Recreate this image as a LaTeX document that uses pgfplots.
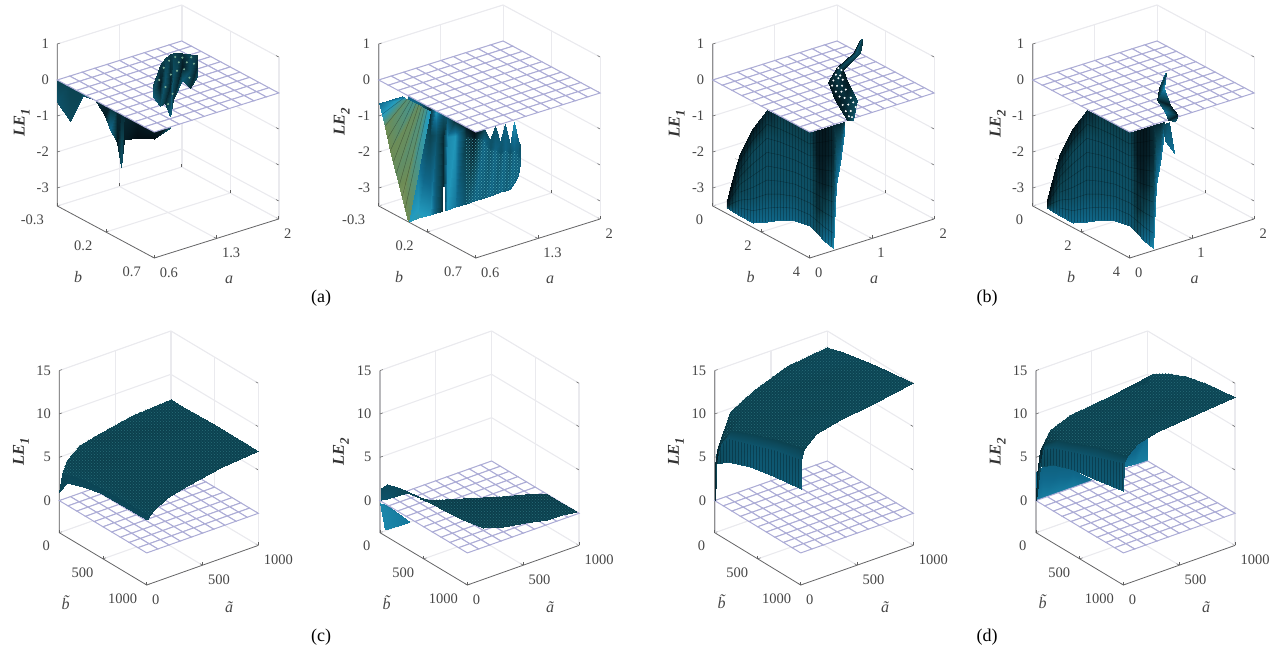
\documentclass[border=0pt]{standalone}
\usepackage{fontspec}
\setmainfont{Liberation Serif}
\usepackage{pgfplots}
\usepackage{pgfplotstable}
\usetikzlibrary{patterns}
\pgfplotsset{compat=1.18}
\definecolor{wallc}{RGB}{234,234,238}
\definecolor{tickc}{RGB}{95,95,95}
\definecolor{planec}{RGB}{172,172,214}
\definecolor{txtc}{RGB}{70,70,70}
\definecolor{speck}{RGB}{40,108,120}
\definecolor{speckb}{RGB}{80,170,185}
\definecolor{speckg}{RGB}{125,175,150}
\pgfplotsset{colormap={ds}{rgb255(0cm)=(3,14,20) rgb255(2cm)=(12,66,80) rgb255(4.5cm)=(16,105,140) rgb255(6.2cm)=(35,155,190) rgb255(8cm)=(110,140,85) rgb255(9.5cm)=(200,215,190) rgb255(10cm)=(255,255,255)}}
\pgfplotsset{
 base/.style={clip=false, anchor=south west, y dir=reverse, colormap name=ds,
  point meta min=0, point meta max=1, axis line style={wallc}, grid=major,
  major grid style={wallc,line width=1.1pt}, tick align=inside, major tick length=3pt,
  tick pos=left, unbounded coords=jump,
  tick style={tickc,line width=.5pt},
  tick label style={font=\fontsize{14.5}{16}\selectfont, text=txtc},
  xticklabel style={anchor=north west, xshift=2pt, yshift=-6pt},
  zticklabel style={anchor=east, xshift=-5pt}},
 kT/.style={base, x={(88.857pt,27.857pt)}, y={(-97pt,52pt)}, z={(0pt,36pt)},
  yticklabel style={anchor=north east, xshift=-10pt, yshift=-5pt},
  xmin=0.6,xmax=2,ymin=-0.3,ymax=0.7,zmin=-3.5,zmax=1,
  xtick={0.6,1.3,2},xticklabels={0.6,1.3,2},ytick={-0.3,0.2,0.7},yticklabels={-0.3,0.2,0.7},
  ztick={-3,-2,-1,0,1},zticklabels={-3,-2,-1,0,1}},
 kB/.style={base, x={(62.2pt,19.5pt)}, y={(-24.25pt,13pt)}, z={(0pt,36pt)},
  yticklabel style={anchor=north east, xshift=-6pt, yshift=-5pt},
  xmin=0,xmax=2,ymin=0,ymax=4,zmin=-3.5,zmax=1,
  xtick={0,1,2},xticklabels={0,1,2},ytick={0,2,4},yticklabels={0,2,4},
  ztick={-3,-2,-1,0,1},zticklabels={-3,-2,-1,0,1}},
 kC/.style={base, x={(0.1116pt,0.0396pt)}, y={(-0.0874pt,0.0523pt)}, z={(0pt,8.67pt)},
  yticklabel style={anchor=north east, xshift=-6pt, yshift=-5pt},
  xmin=0,xmax=1000,ymin=0,ymax=1000,zmin=-3.7,zmax=15,
  xtick={0,500,1000},xticklabels={0,500,1000},ytick={0,500,1000},yticklabels={0,500,1000},
  ztick={0,5,10,15},zticklabels={0,5,10,15}},
 sf/.style={surf, shader=interp, point meta=explicit, mesh/ordering=x varies},
 pl/.style={surf, shader=faceted, faceted color=planec, line width=1pt, mesh/cols=11, mesh/ordering=x varies, point meta=explicit},
 ax/.style={no marks, tickc, line width=.7pt},
 dotsA/.style={no marks, draw=none, pattern=crosshatch dots, pattern color=speck},
 dotsB/.style={no marks, draw=none, pattern=crosshatch dots, pattern color=speckb},
 vlines/.style={no marks, draw=none, pattern=vertical lines, pattern color=black, opacity=.25},
 rings/.style={no marks, black, opacity=.35, line width=.4pt}
}
\pgfplotstableread{
i j k m
0 0 0 1
1 0 0 1
2 0 0 1
3 0 0 1
4 0 0 1
5 0 0 1
6 0 0 1
7 0 0 1
8 0 0 1
9 0 0 1
10 0 0 1
0 1 0 1
1 1 0 1
2 1 0 1
3 1 0 1
4 1 0 1
5 1 0 1
6 1 0 1
7 1 0 1
8 1 0 1
9 1 0 1
10 1 0 1
0 2 0 1
1 2 0 1
2 2 0 1
3 2 0 1
4 2 0 1
5 2 0 1
6 2 0 1
7 2 0 1
8 2 0 1
9 2 0 1
10 2 0 1
0 3 0 1
1 3 0 1
2 3 0 1
3 3 0 1
4 3 0 1
5 3 0 1
6 3 0 1
7 3 0 1
8 3 0 1
9 3 0 1
10 3 0 1
0 4 0 1
1 4 0 1
2 4 0 1
3 4 0 1
4 4 0 1
5 4 0 1
6 4 0 1
7 4 0 1
8 4 0 1
9 4 0 1
10 4 0 1
0 5 0 1
1 5 0 1
2 5 0 1
3 5 0 1
4 5 0 1
5 5 0 1
6 5 0 1
7 5 0 1
8 5 0 1
9 5 0 1
10 5 0 1
0 6 0 1
1 6 0 1
2 6 0 1
3 6 0 1
4 6 0 1
5 6 0 1
6 6 0 1
7 6 0 1
8 6 0 1
9 6 0 1
10 6 0 1
0 7 0 1
1 7 0 1
2 7 0 1
3 7 0 1
4 7 0 1
5 7 0 1
6 7 0 1
7 7 0 1
8 7 0 1
9 7 0 1
10 7 0 1
0 8 0 1
1 8 0 1
2 8 0 1
3 8 0 1
4 8 0 1
5 8 0 1
6 8 0 1
7 8 0 1
8 8 0 1
9 8 0 1
10 8 0 1
0 9 0 1
1 9 0 1
2 9 0 1
3 9 0 1
4 9 0 1
5 9 0 1
6 9 0 1
7 9 0 1
8 9 0 1
9 9 0 1
10 9 0 1
0 10 0 1
1 10 0 1
2 10 0 1
3 10 0 1
4 10 0 1
5 10 0 1
6 10 0 1
7 10 0 1
8 10 0 1
9 10 0 1
10 10 0 1
}\planegrid
% panel (a) LE1, below the plane
\pgfplotstableread{
a b z m
0.6 -0.3 -0.6 0.3
0.6 -0.17 -0.95 0.25
0.6 -0.035 -0.06 0.3
0.6 0.09 0 0.15
0.6 0.19 -0.29 0.05
0.6 0.243 -0.6 0.45
0.6 0.315 -0.83 0.05
0.6 0.357 -1.47 0.3
0.6 0.39 -0.67 0.05
0.6 0.52 -0.43 0
0.6 0.7 -0.2 0
0.778 0.7 -0.03 0.3
0.6 -0.3 0 0.2
0.6 -0.17 0.1 0.2
0.6 -0.035 0.1 0.2
0.6 0.09 0.1 0.2
0.6 0.19 0.1 0.1
0.6 0.243 0.1 0.1
0.6 0.315 0.1 0.1
0.6 0.357 0.1 0.1
0.6 0.39 0.1 0.1
0.6 0.52 0.1 0.05
0.6 0.7 0.1 0.05
0.778 0.7 0.1 0.1
}\aOneLo
% panel (a) LE1, above the plane
\pgfplotstableread{
a b z m
1.35 0 -0.29 0.2
1.43 0 0.21 0.15
1.485 0 0.36 0.2
1.54 0 0.43 0.15
1.574 0 0.43 0.2
1.675 0 0.35 0.12
1.766 0 0.25 0.22
1.845 0 0.16 0.15
1.35 0 -0.45 0.3
1.43 0 -0.36 0.05
1.485 0 -0.26 0.3
1.54 0 -0.45 0.08
1.574 0 -0.22 0.28
1.675 0 -0.03 0.05
1.766 0 -0.22 0.25
1.845 0 -0.15 0.1
1.35 0 -0.62 0.35
1.43 0 -0.93 0.28
1.485 0 -0.89 0.12
1.54 0 -1.32 0.4
1.574 0 -0.875 0.15
1.675 0 -0.4 0.35
1.766 0 -0.69 0.12
1.845 0 -0.45 0.25
}\aOneHi
% speckles on that clump
\pgfplotstableread{
a b z
1.42 0 -0.2
1.47 0 0.1
1.49 0 -0.45
1.53 0 0.25
1.55 0 -0.15
1.57 0 -0.7
1.6 0 0.3
1.62 0 -0.1
1.64 0 0.12
1.68 0 0.22
1.7 0 -0.12
1.73 0 0.05
1.76 0 -0.4
1.78 0 0.15
1.81 0 -0.05
1.52 0 -0.95
}\aOneSpeck
% panel (a) LE2, main sheet
\pgfplotstableread{
a b z m
0.606 0 -0.02 0.45
0.715 0 -0.21 0.4
0.85 0 -0.51 0.1
0.917 0 -0.64 0.62
0.996 0 -0.82 0.3
1.041 0 -0.91 0.3
1.131 0 -1.09 0.1
1.255 0 -1.35 0.05
1.345 0 -1.56 0
1.457 0 -1.59 0.2
1.525 0 -1.95 0.3
1.581 0 -1.6 0.3
1.637 0 -2.1 0.35
1.694 0 -1.63 0.4
1.75 0 -2.26 0.35
1.795 0 -1.66 0.6
1.84 0 -2.19 0.4
1.863 0 -2.35 0.3
0.606 0 -1.52 0.5
0.715 0 -1.48 0.42
0.85 0 -1.29 0.2
0.917 0 -1.34 0.3
0.996 0 -1.46 0.1
1.041 0 -1.49 0.55
1.131 0 -1.53 0.6
1.255 0 -1.66 0.15
1.345 0 -1.76 0.05
1.457 0 -1.9 0.4
1.525 0 -2.23 0.3
1.581 0 -2.27 0.4
1.637 0 -2.45 0.3
1.694 0 -2.36 0.4
1.75 0 -2.54 0.3
1.795 0 -2.44 0.4
1.84 0 -2.61 0.35
1.863 0 -2.77 0.35
0.606 0 -3.51 0.62
0.715 0 -3.49 0.65
0.85 0 -3.51 0.6
0.917 0 -3.5 0.35
0.996 0 -3.51 0.1
1.041 0 -3.52 0.6
1.131 0 -3.51 0.5
1.255 0 -3.52 0.3
1.345 0 -3.5 0.4
1.457 0 -3.51 0.35
1.525 0 -3.51 0.42
1.581 0 -3.49 0.35
1.637 0 -3.48 0.42
1.694 0 -3.5 0.35
1.75 0 -3.48 0.42
1.795 0 -3.35 0.4
1.84 0 -3.16 0.4
1.863 0 -2.85 0.4
}\aTwoMain
% panel (a) LE2, olive wedge
\pgfplotstableread{
a b z m
0.6 -0.3 -0.63 0.45
0.6 -0.063 -0.1 0.42
0.6 -0.24 -1.21 0.8
0.65 -0.05 -0.2 0.75
0.6 -0.18 -1.79 0.8
0.7 -0.038 -0.31 0.7
0.6 -0.12 -2.35 0.78
0.75 -0.025 -0.41 0.78
0.6 -0.06 -2.93 0.82
0.8 -0.013 -0.52 0.72
0.6 0 -3.51 0.8
0.85 0 -0.62 0.6
}\aTwoOlive
% panel (b), main sheet
\pgfplotstableread{
a b z m
0 0.577 -3.125 0
0 0.713 -2.74 0
0 0.92 -2.17 0.02
0 1.126 -1.62 0.03
0 1.662 -0.73 0.03
0 2.24 -0.03 0.1
0 2.775 0 0.18
0 3.39 0 0.18
0 4 0 0.2
0.113 4 0 0.05
0.23 4 0 0.03
0.37 4 0 0.1
0.423 4 0 0.1
0.487 4 0 0.1
0.566 4 0 0.1
0 0.577 -3.18 0.02
0 0.713 -2.89 0.03
0 0.92 -2.47 0.08
0 1.126 -2.06 0.13
0 1.662 -1.39 0.24
0 2.24 -0.81 0.26
0 2.775 -0.72 0.26
0 3.39 -0.67 0.26
0 4 -0.66 0.26
0.113 4 -0.72 0.05
0.23 4 -0.79 0.05
0.37 4 -0.86 0.1
0.423 4 -0.43 0.2
0.487 4 -0.28 0.2
0.566 4 -0.03 0.2
0 0.577 -3.24 0.05
0 0.713 -3.05 0.08
0 0.92 -2.77 0.15
0 1.126 -2.49 0.2
0 1.662 -2.05 0.27
0 2.24 -1.58 0.28
0 2.775 -1.45 0.28
0 3.39 -1.34 0.28
0 4 -1.31 0.28
0.113 4 -1.44 0.1
0.23 4 -1.58 0.08
0.37 4 -1.72 0.2
0.423 4 -0.85 0.3
0.487 4 -0.56 0.3
0.566 4 -0.05 0.3
0 0.577 -3.30 0.1
0 0.713 -3.20 0.15
0 0.92 -3.06 0.22
0 1.126 -2.93 0.28
0 1.662 -2.70 0.3
0 2.24 -2.36 0.3
0 2.775 -2.17 0.3
0 3.39 -2.01 0.3
0 4 -1.97 0.3
0.113 4 -2.16 0.12
0.23 4 -2.36 0.2
0.37 4 -2.57 0.35
0.423 4 -1.28 0.4
0.487 4 -0.84 0.4
0.566 4 -0.08 0.4
0 0.577 -3.36 0.32
0 0.713 -3.35 0.36
0 0.92 -3.36 0.4
0 1.126 -3.36 0.42
0 1.662 -3.36 0.45
0 2.24 -3.13 0.45
0 2.775 -2.89 0.42
0 3.39 -2.68 0.42
0 4 -2.62 0.35
0.113 4 -2.88 0.25
0.23 4 -3.15 0.45
0.37 4 -3.43 0.55
0.423 4 -1.7 0.5
0.487 4 -1.125 0.5
0.566 4 -0.1 0.5
}\bMain
% panel (b) LE1, ribbon above the plane
\pgfplotstableread{
a b z m
1.588 2 0.97 0.1
1.61 2 0.985 0.3
1.632 2 1.0 0.1
1.476 2 0.67 0.05
1.532 2 0.64 0.3
1.588 2 0.61 0.2
1.214 2 0.43 0.05
1.265 2 0.36 0.2
1.315 2 0.29 0.05
1.079 2 0.09 0.05
1.238 2 -0.02 0.15
1.396 2 -0.12 0.05
1.186 2 -0.475 0.03
1.36 2 -0.57 0.12
1.535 2 -0.67 0.25
1.375 2 -1.13 0.1
1.425 2 -1.16 0.2
1.476 2 -1.19 0.35
}\bOneHi
% white specks on that ribbon
\pgfplotstableread{
a b z
1.24 2 0.38
1.29 2 0.30
1.2 2 0.22
1.27 2 0.16
1.16 2 0.08
1.24 2 0.1
1.31 2 0.02
1.14 2 -0.05
1.22 2 -0.1
1.3 2 -0.14
1.2 2 -0.25
1.29 2 -0.3
1.36 2 -0.28
1.26 2 -0.42
1.34 2 -0.5
1.44 2 -0.55
1.31 2 -0.68
1.4 2 -0.72
1.48 2 -0.7
1.36 2 -0.88
1.44 2 -0.92
1.41 2 -1.05
1.46 2 -1.1
1.52 2 -0.85
}\bOneSpeck
% panel (b) LE2, stick above the plane
\pgfplotstableread{
a b z m
1.347 2 0.186 0.5
1.363 2 0.18 0.2
1.25 2 -0.18 0.05
1.331 2 -0.22 0.6
1.219 2 -0.49 0.1
1.428 2 -0.74 0.05
1.347 2 -0.9 0.5
1.556 2 -1.09 0.05
1.396 2 -1.14 0.1
1.508 2 -1.26 0.4
}\bTwoHi
\pgfplotstableread{
a b z m
0.535 4 -0.07 0.2
0.632 4 -0.06 0.3
0.568 4 -0.56 0.4
0.712 4 -0.97 0.5
}\bTwoLo
% panel (c) LE1
\pgfplotstableread{
a b z m
0 0 1.0 0.22
20 0 3.0 0.22
66 0 4.4 0.2
185 0 5.6 0.2
365 0 6.1 0.2
660 0 6.9 0.2
1000 0 7.1 0.2
0 85 2.5 0.25
20 85 3.4 0.22
66 85 4.6 0.2
185 85 5.6 0.2
365 85 6.1 0.19
660 85 6.9 0.2
1000 85 7.1 0.2
0 270 3.2 0.24
20 270 3.9 0.22
66 270 4.7 0.2
185 270 5.6 0.19
365 270 6.1 0.2
660 270 6.9 0.19
1000 270 7.15 0.2
0 466 3.7 0.24
20 466 4.1 0.22
66 466 4.8 0.2
185 466 5.6 0.2
365 466 6.1 0.2
660 466 6.9 0.2
1000 466 7.2 0.2
0 730 3.8 0.24
20 730 4.2 0.22
66 730 4.8 0.2
185 730 5.6 0.2
365 730 6.0 0.2
660 730 6.9 0.2
1000 730 7.2 0.2
0 1000 3.8 0.24
20 1000 4.2 0.22
66 1000 4.7 0.2
185 1000 5.5 0.2
365 1000 6.0 0.2
660 1000 6.8 0.2
1000 1000 7.2 0.2
}\cOne
% panel (c) LE2, ribbon above the plane
\pgfplotstableread{
a b z m
255 132 0 0.2
288 205 0 0.18
382 256 0 0.18
488 327 0 0.18
609 400 0 0.18
736 467 0 0.18
874 543 0 0.18
998 637 0 0.18
1000 803 0 0.18
1000 963 0 0.18
0 458 3.0 0.2
0 572 3.18 0.2
0 744 3.3 0.2
0 950 3.5 0.2
140 1000 2.2 0.2
319 1000 1.58 0.2
516 1000 1.05 0.2
713 1000 0.54 0.2
848 1000 0.45 0.2
982 1000 0.28 0.2
}\cTwoHi
\pgfplotstableread{
a b z m
9 0 1.42 0.25
60 0 1.65 0.25
150 0 0.93 0.25
242 0 -0.05 0.22
358 0 -1.27 0.2
9 0 0 0.3
60 0 -0.14 0.3
150 0 -0.14 0.25
242 0 -0.21 0.22
358 0 -1.38 0.2
}\cTwoLump
\pgfplotstableread{
a b z m
0 0 -0.3 0.55
0 77 0 0.5
0 57 -3.03 0.55
0 343 -0.36 0.5
}\cTwoLo
% panel (d) LE1
\pgfplotstableread{
a b z m
0 0 0 0.1
0 20 4.3 0.25
0 150 5.4 0.3
0 410 6.4 0.35
0 680 6.9 0.35
0 1000 7.4 0.35
6 0 4 0.1
6 20 6 0.3
6 150 8 0.3
6 410 8.9 0.32
6 680 9.9 0.32
6 1000 10.7 0.3
30 0 6 0.1
30 20 6.5 0.16
30 150 8.9 0.2
30 410 10 0.2
30 680 11 0.2
30 1000 11.9 0.2
136 0 9.6 0.18
136 20 9.7 0.2
136 150 10.5 0.2
136 410 11.3 0.2
136 680 12.2 0.21
136 1000 13.1 0.21
349 0 11.2 0.2
349 20 11.2 0.2
349 150 11.7 0.2
349 410 12.4 0.21
349 680 13 0.2
349 1000 13.75 0.22
645 0 12.6 0.2
645 20 12.6 0.2
645 150 13 0.22
645 410 13.4 0.2
645 680 13.8 0.21
645 1000 14.2 0.22
1000 0 13.2 0.22
1000 20 13.2 0.22
1000 150 13.6 0.22
1000 410 14.1 0.22
1000 680 14.6 0.22
1000 1000 15 0.22
}\dOne
% panel (d) LE2
\pgfplotstableread{
a b z m
0 0 0 0.1
0 46 4.2 0.25
0 200 5.3 0.3
0 430 6.1 0.35
0 660 6.45 0.35
0 1000 7.2 0.35
6 0 3 0.1
6 46 6.1 0.3
6 200 7.2 0.3
6 430 8.1 0.32
6 660 9 0.32
6 1000 10.3 0.3
36 0 5.7 0.1
36 46 6.8 0.16
36 200 8 0.2
36 430 9 0.2
36 660 10 0.2
36 1000 11 0.2
125 0 7.6 0.18
125 46 8 0.2
125 200 9 0.2
125 430 10 0.2
125 660 11 0.21
125 1000 12 0.21
304 0 8.5 0.2
304 46 8.8 0.2
304 200 9.8 0.2
304 430 10.8 0.21
304 660 11.8 0.2
304 1000 12.6 0.22
662 0 9 0.2
662 46 9.5 0.22
662 200 10.4 0.2
662 430 11.3 0.21
662 660 12.2 0.2
662 1000 13 0.22
1000 0 9 0.2
1000 46 10.3 0.22
1000 200 11.4 0.22
1000 430 12.4 0.22
1000 660 13 0.22
1000 1000 13.4 0.22
}\dTwo
\pgfplotstableread{
a b z m
0 0 3.3 0.4
63 0 3.71 0.4
215 0 3.0 0.4
331 0 2.03 0.42
510 0 0.1 0.45
0 0 0.1 0.5
63 0 0 0.52
215 0 0.05 0.52
331 0 0.1 0.52
510 0 0.1 0.5
}\dTwoWallA
\pgfplotstableread{
a b z m
782 0 1.35 0.4
886 0 2.15 0.42
1000 0 3 0.45
782 0 0.35 0.5
886 0 0.2 0.52
1000 0 0.1 0.52
}\dTwoWallB
\newcommand\bTexture{%
\addplot3[vlines] coordinates {(0,0.577,-3.125)(0,0.92,-2.17)(0,1.126,-1.62)(0,1.662,-0.73)(0,2.24,-0.03)(0,2.775,0)(0,3.39,0)(0,4,0)(0.113,4,0)(0.23,4,0)(0.37,4,0)(0.37,4,-3.43)(0.23,4,-3.15)(0.113,4,-2.88)(0,4,-2.62)(0,3.39,-2.68)(0,2.775,-2.89)(0,2.24,-3.13)(0,1.662,-3.36)(0,1.126,-3.36)(0,0.92,-3.36)(0,0.577,-3.36)(0,0.577,-3.125)};
\addplot3[rings] coordinates {(0,0.713,-2.89)(0,0.92,-2.47)(0,1.126,-2.06)(0,1.662,-1.39)(0,2.24,-0.81)(0,2.775,-0.72)(0,3.39,-0.67)(0,4,-0.66)(0.113,4,-0.72)(0.23,4,-0.79)(0.37,4,-0.86)(nan,nan,nan)(0,0.713,-3.05)(0,0.92,-2.77)(0,1.126,-2.49)(0,1.662,-2.05)(0,2.24,-1.58)(0,2.775,-1.45)(0,3.39,-1.34)(0,4,-1.31)(0.113,4,-1.44)(0.23,4,-1.58)(0.37,4,-1.72)(nan,nan,nan)(0,0.713,-3.2)(0,0.92,-3.06)(0,1.126,-2.93)(0,1.662,-2.7)(0,2.24,-2.36)(0,2.775,-2.17)(0,3.39,-2.01)(0,4,-1.97)(0.113,4,-2.16)(0.23,4,-2.36)(0.37,4,-2.57)(nan,nan,nan)(0,0.92,-1.85)(0,1.126,-1.84)(0,1.662,-1.06)(0,2.24,-0.42)(0,2.775,-0.36)(0,3.39,-0.33)(0,4,-0.33)(0.113,4,-0.36)(0.23,4,-0.4)(0.37,4,-0.43)(nan,nan,nan)(0,0.92,-2.62)(0,1.126,-2.27)(0,1.662,-1.72)(0,2.24,-1.2)(0,2.775,-1.08)(0,3.39,-1)(0,4,-0.98)(0.113,4,-1.08)(0.23,4,-1.18)(0.37,4,-1.29)(nan,nan,nan)(0,1.126,-2.71)(0,1.662,-2.38)(0,2.24,-1.97)(0,2.775,-1.81)(0,3.39,-1.67)(0,4,-1.64)(0.113,4,-1.8)(0.23,4,-1.97)(0.37,4,-2.14)(nan,nan,nan)(0,1.126,-3.15)(0,1.662,-3.03)(0,2.24,-2.75)(0,2.775,-2.53)(0,3.39,-2.34)(0,4,-2.3)(0.113,4,-2.52)(0.23,4,-2.76)(0.37,4,-3)};
}
\newcommand\lab[3]{\node[text=txtc,font=\fontsize{16}{18}\selectfont\itshape] at (#1,{651-#2}) {#3};}
\newcommand\lel[4]{\node[rotate=90,text=black!80,font=\fontsize{16.5}{18}\selectfont\bfseries\itshape] at (#1,{651-#2}) {LE\raisebox{-5pt}{\fontsize{13}{13}\selectfont #3}};}
\newcommand\cpt[3]{\node[font=\fontsize{18}{20}\selectfont] at (#1,{651-#2}) {#3};}
\begin{document}
\begin{tikzpicture}[x=1pt,y=1pt]
\useasboundingbox (0,0) rectangle (1284,651);
%-------- a1
\begin{axis}[kT, at={(57.3pt,393pt)}]
\addplot3[ax] coordinates {(0.6,-0.3,1)(0.6,-0.3,-3.5)(0.6,0.7,-3.5)(2,0.7,-3.5)};
\addplot3[sf,mesh/cols=12] table[x=a,y=b,z=z,meta=m] {\aOneLo};
\addplot3[pl] table[x expr=\thisrow{i}*0.14+0.6,y expr=\thisrow{j}*0.1-0.3,z=k,meta=m] {\planegrid};
\addplot3[sf,mesh/cols=8] table[x=a,y=b,z=z,meta=m] {\aOneHi};
\addplot3[speckg,only marks,mark=*,mark size=.8pt] table[x=a,y=b,z=z] {\aOneSpeck};
\end{axis}
%-------- a2
\begin{axis}[kT, at={(378.7pt,393pt)}]
\addplot3[ax] coordinates {(0.6,-0.3,1)(0.6,-0.3,-3.5)(0.6,0.7,-3.5)(2,0.7,-3.5)};
\addplot3[sf,mesh/cols=18] table[x=a,y=b,z=z,meta=m] {\aTwoMain};
\addplot3[dotsB] coordinates {(1.255,0,-1.66)(1.345,0,-1.76)(1.457,0,-1.9)(1.525,0,-2.23)(1.581,0,-2.27)(1.637,0,-2.45)(1.694,0,-2.36)(1.75,0,-2.54)(1.795,0,-2.44)(1.84,0,-2.61)(1.863,0,-2.77)(1.863,0,-2.85)(1.84,0,-3.16)(1.795,0,-3.35)(1.75,0,-3.48)(1.637,0,-3.48)(1.525,0,-3.51)(1.345,0,-3.5)(1.255,0,-3.52)(1.255,0,-1.66)};
\addplot3[no marks,white,line width=1.3pt] coordinates {(1.007,0,-3.55)(1.007,0,-2.85)};
\addplot3[sf,mesh/cols=2] table[x=a,y=b,z=z,meta=m] {\aTwoOlive};
\addplot3[rings] coordinates {(0.6,-0.27,-0.92)(0.625,-0.056,-0.15)(nan,nan,nan)(0.6,-0.24,-1.21)(0.65,-0.05,-0.2)(nan,nan,nan)(0.6,-0.21,-1.5)(0.675,-0.044,-0.26)(nan,nan,nan)(0.6,-0.18,-1.79)(0.7,-0.038,-0.31)(nan,nan,nan)(0.6,-0.15,-2.07)(0.725,-0.031,-0.36)(nan,nan,nan)(0.6,-0.12,-2.35)(0.75,-0.025,-0.41)(nan,nan,nan)(0.6,-0.09,-2.64)(0.775,-0.019,-0.47)(nan,nan,nan)(0.6,-0.06,-2.93)(0.8,-0.013,-0.52)(nan,nan,nan)(0.6,-0.03,-3.22)(0.825,-0.006,-0.57)};
\addplot3[pl] table[x expr=\thisrow{i}*0.14+0.6,y expr=\thisrow{j}*0.1-0.3,z=k,meta=m] {\planegrid};
\end{axis}
%-------- b1
\begin{axis}[kB, at={(712.7pt,393pt)}]
\addplot3[ax] coordinates {(0,0,1)(0,0,-3.5)(0,4,-3.5)(2,4,-3.5)};
\addplot3[sf,mesh/cols=15] table[x=a,y=b,z=z,meta=m] {\bMain};
\bTexture
\addplot3[pl] table[x expr=\thisrow{i}*0.2,y expr=\thisrow{j}*0.4,z=k,meta=m] {\planegrid};
\addplot3[sf,mesh/cols=3] table[x=a,y=b,z=z,meta=m] {\bOneHi};
\addplot3[white,only marks,mark=*,mark size=.8pt] table[x=a,y=b,z=z] {\bOneSpeck};
\end{axis}
%-------- b2
\begin{axis}[kB, at={(1032.7pt,393pt)}]
\addplot3[ax] coordinates {(0,0,1)(0,0,-3.5)(0,4,-3.5)(2,4,-3.5)};
\addplot3[sf,mesh/cols=15] table[x=a,y=b,z=z,meta=m] {\bMain};
\bTexture
\addplot3[sf,mesh/cols=2] table[x=a,y=b,z=z,meta=m] {\bTwoLo};
\addplot3[pl] table[x expr=\thisrow{i}*0.2,y expr=\thisrow{j}*0.4,z=k,meta=m] {\planegrid};
\addplot3[sf,mesh/cols=2] table[x=a,y=b,z=z,meta=m] {\bTwoHi};
\end{axis}
%-------- c1
\begin{axis}[kC, at={(59.3pt,66pt)}]
\addplot3[ax] coordinates {(0,0,15)(0,0,-3.7)(0,1000,-3.7)(1000,1000,-3.7)};
\addplot3[pl] table[x expr=\thisrow{i}*100,y expr=\thisrow{j}*100,z=k,meta=m] {\planegrid};
\addplot3[sf,mesh/cols=7] table[x=a,y=b,z=z,meta=m] {\cOne};
\addplot3[dotsA] coordinates {(20,0,3)(66,0,4.4)(185,0,5.6)(365,0,6.1)(660,0,6.9)(1000,0,7.1)(1000,270,7.15)(1000,730,7.2)(1000,1000,7.2)(660,1000,6.8)(365,1000,6)(185,1000,5.5)(66,1000,4.7)(20,1000,4.2)(20,730,4.2)(20,466,4.1)(20,270,3.9)(20,85,3.4)(20,0,3)};
\end{axis}
%-------- c2
\begin{axis}[kC, at={(380pt,66pt)}]
\addplot3[ax] coordinates {(0,0,15)(0,0,-3.7)(0,1000,-3.7)(1000,1000,-3.7)};
\addplot3[sf,mesh/cols=2] table[x=a,y=b,z=z,meta=m] {\cTwoLo};
\addplot3[pl] table[x expr=\thisrow{i}*100,y expr=\thisrow{j}*100,z=k,meta=m] {\planegrid};
\addplot3[sf,mesh/cols=10] table[x=a,y=b,z=z,meta=m] {\cTwoHi};
\addplot3[sf,mesh/cols=5] table[x=a,y=b,z=z,meta=m] {\cTwoLump};
\addplot3[dotsA] coordinates {(255,132,0)(288,205,0)(382,256,0)(488,327,0)(609,400,0)(736,467,0)(874,543,0)(998,637,0)(1000,803,0)(1000,963,0)(982,1000,0.28)(848,1000,0.45)(713,1000,0.54)(516,1000,1.05)(319,1000,1.58)(140,1000,2.2)(0,950,3.5)(0,744,3.3)(0,572,3.18)(0,458,3)(255,132,0)};
\end{axis}
%-------- d1
\begin{axis}[kC, x={(0.1126pt,0.0396pt)}, y={(-0.086pt,0.0523pt)}, at={(714.7pt,66pt)}]
\addplot3[ax] coordinates {(0,0,15)(0,0,-3.7)(0,1000,-3.7)(1000,1000,-3.7)};
\addplot3[pl] table[x expr=\thisrow{i}*100,y expr=\thisrow{j}*100,z=k,meta=m] {\planegrid};
\addplot3[sf,mesh/cols=6] table[x=a,y=b,z=z,meta=m] {\dOne};
\addplot3[dotsA] coordinates {(30,0,6)(136,0,9.6)(349,0,11.2)(645,0,12.6)(1000,0,13.2)(1000,1000,15)(645,1000,14.2)(349,1000,13.75)(136,1000,13.1)(30,1000,11.9)(30,680,11)(30,410,10)(30,150,8.9)(30,20,6.5)(30,0,6)};
\addplot3[vlines] coordinates {(0,20,4.3)(0,150,5.4)(0,410,6.4)(0,680,6.9)(0,1000,7.4)(6,1000,10.7)(6,680,9.9)(6,410,8.9)(6,150,8)(6,20,6)(0,20,4.3)};
\end{axis}
%-------- d2
\begin{axis}[kC, at={(1036pt,66pt)}]
\addplot3[ax] coordinates {(0,0,15)(0,0,-3.7)(0,1000,-3.7)(1000,1000,-3.7)};
\addplot3[sf,mesh/cols=5] table[x=a,y=b,z=z,meta=m] {\dTwoWallA};
\addplot3[sf,mesh/cols=3] table[x=a,y=b,z=z,meta=m] {\dTwoWallB};
\addplot3[pl] table[x expr=\thisrow{i}*100,y expr=\thisrow{j}*100,z=k,meta=m] {\planegrid};
\addplot3[sf,mesh/cols=6] table[x=a,y=b,z=z,meta=m] {\dTwo};
\addplot3[dotsA] coordinates {(36,0,5.7)(125,0,7.6)(304,0,8.5)(662,0,9)(1000,0,9)(1000,46,10.3)(1000,200,11.4)(1000,430,12.4)(1000,660,13)(1000,1000,13.4)(662,1000,13)(304,1000,12.6)(125,1000,12)(36,1000,11)(36,660,10)(36,430,9)(36,200,8)(36,46,6.8)(36,0,5.7)};
\addplot3[vlines] coordinates {(0,46,4.2)(0,200,5.3)(0,430,6.1)(0,660,6.45)(0,1000,7.2)(6,1000,10.3)(6,660,9)(6,430,8.1)(6,200,7.2)(6,46,6.1)(0,46,4.2)};
\end{axis}
% labels
\lab{229}{280}{a}\lab{78}{277}{b}\lel{21.7}{123}{1}{}
\lab{550}{280}{a}\lab{399}{277}{b}\lel{341.7}{122}{2}{}
\lab{874}{280}{a}\lab{750.7}{277}{b}\lel{676.7}{124}{1}{}
\lab{1194.7}{280}{a}\lab{1071}{277}{b}\lel{997.8}{124}{2}{}
\lab{229}{606.7}{\~{a}}\lab{65.7}{603}{\~{b}}\lel{21}{452}{1}{}
\lab{550}{606.7}{\~{a}}\lab{386.7}{603}{\~{b}}\lel{341}{452}{2}{}
\lab{885}{606.7}{\~{a}}\lab{721.7}{602}{\~{b}}\lel{676}{452}{1}{}
\lab{1206}{606.7}{\~{a}}\lab{1042.7}{602}{\~{b}}\lel{997.8}{452}{2}{}
\cpt{321}{298}{(a)}\cpt{987}{298}{(b)}\cpt{321}{637}{(c)}\cpt{987}{637}{(d)}
\end{tikzpicture}
\end{document}
